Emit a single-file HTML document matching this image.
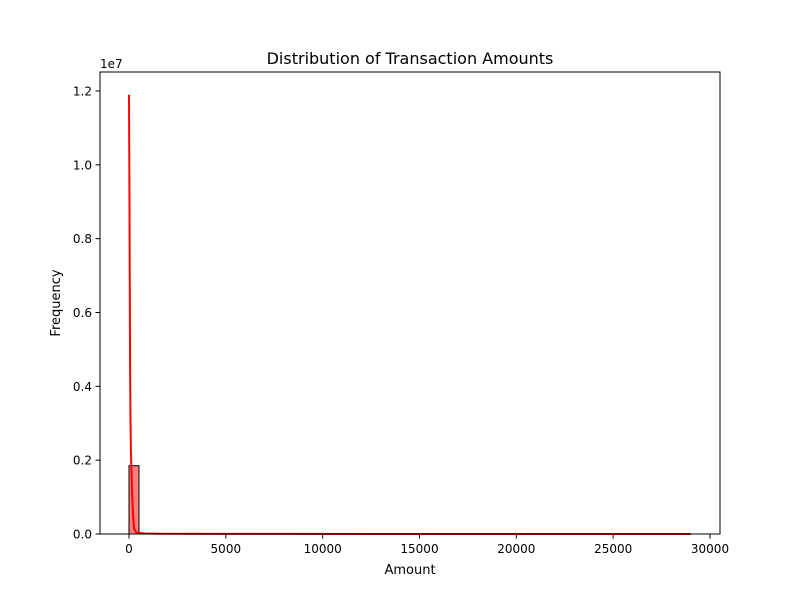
<!DOCTYPE html>
<html><head><meta charset="utf-8"><style>
body{margin:0;background:#fff;}
svg text{font-family:"DejaVu Sans","Liberation Sans",sans-serif;fill:#000;}
</style></head><body>
<svg id="chart" width="800" height="600" xmlns="http://www.w3.org/2000/svg">
<rect width="800" height="600" fill="#fff"/>
<g id="bars"></g>
<path id="kde" fill="none" stroke="#ff0000" stroke-width="2"/>
<rect x="100" y="72" width="620" height="462" fill="none" stroke="#000" stroke-width="1"/>
<g id="xticks"></g><g id="yticks"></g>
<text x="100" y="68" font-size="12" text-anchor="start">1e7</text>
<text x="410" y="64" font-size="16" text-anchor="middle">Distribution of Transaction Amounts</text>
<text x="410" y="574" font-size="13" text-anchor="middle">Amount</text>
<text x="60" y="303" font-size="13" text-anchor="middle" transform="rotate(-90 60 303)">Frequency</text>
</svg>
<script>
const binEdgesStart = 0;
const binWidth = 516;
const binCounts = [1850000, 4000, 1000, 500, 300, 200, 100, 100, 100, 100];
const kdeAmounts = [0, 25, 50, 75, 100, 130, 160, 200, 260, 350, 500, 800, 1500, 5000, 15000, 29000];
const kdeValues = [11900000, 9000000, 5200000, 3200000, 2200000, 1700000, 1100000, 600000, 150000, 60000, 30000, 15000, 8000, 3000, 1000, 500];
const xTickValues = [0, 5000, 10000, 15000, 20000, 25000, 30000];
const xTickLabels = ["0", "5000", "10000", "15000", "20000", "25000", "30000"];
const yTickValues = [0, 2000000, 4000000, 6000000, 8000000, 10000000, 12000000];
const yTickLabels = ["0.0", "0.2", "0.4", "0.6", "0.8", "1.0", "1.2"];
const NS = "http://www.w3.org/2000/svg";
const X = v => 129 + v * (581 / 30000);
const Y = v => 534 - v * (443 / 12000000);
const bars = document.getElementById('bars');
binCounts.forEach((c, i) => {
  const r = document.createElementNS(NS, 'rect');
  const x0 = X(binEdgesStart + i * binWidth), x1 = X(binEdgesStart + (i + 1) * binWidth);
  r.setAttribute('x', x0); r.setAttribute('width', x1 - x0);
  r.setAttribute('y', Y(c)); r.setAttribute('height', 534 - Y(c));
  r.setAttribute('fill', 'rgba(255,0,0,0.5)'); r.setAttribute('stroke', '#000'); r.setAttribute('stroke-width', '1');
  
  
  bars.appendChild(r);
});
document.getElementById('kde').setAttribute('d', kdeAmounts.map((a, i) => (i ? 'L' : 'M') + X(a).toFixed(2) + ' ' + Y(kdeValues[i]).toFixed(2)).join(' '));
const xt = document.getElementById('xticks');
xTickValues.forEach((v, i) => {
  const l = document.createElementNS(NS, 'line');
  l.setAttribute('x1', X(v)); l.setAttribute('x2', X(v)); l.setAttribute('y1', 534); l.setAttribute('y2', 538.5); l.setAttribute('stroke', '#000');
  
  
  xt.appendChild(l);
  const t = document.createElementNS(NS, 'text');
  t.setAttribute('x', X(v)); t.setAttribute('y', 553); t.setAttribute('font-size', '12'); t.setAttribute('text-anchor', 'middle');
  t.textContent = xTickLabels[i];
  
  
  xt.appendChild(t);
});
const yt = document.getElementById('yticks');
yTickValues.forEach((v, i) => {
  const l = document.createElementNS(NS, 'line');
  l.setAttribute('x1', 95.5); l.setAttribute('x2', 100); l.setAttribute('y1', Y(v)); l.setAttribute('y2', Y(v)); l.setAttribute('stroke', '#000');
  
  
  yt.appendChild(l);
  const t = document.createElementNS(NS, 'text');
  t.setAttribute('x', 92); t.setAttribute('y', Y(v) + 4.5); t.setAttribute('font-size', '12'); t.setAttribute('text-anchor', 'end');
  t.textContent = yTickLabels[i];
  
  
  yt.appendChild(t);
});
</script>
</body></html>
